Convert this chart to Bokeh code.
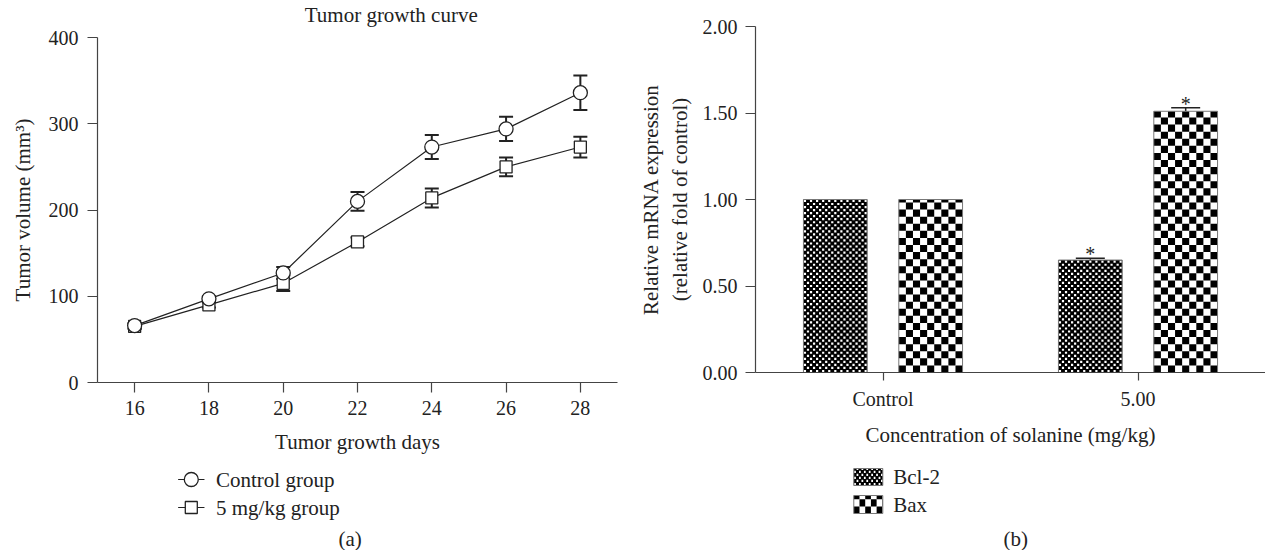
from bokeh.plotting import figure
from bokeh.layouts import row, column
from bokeh.models import (ColumnDataSource, Whisker, TeeHead, FactorRange, Range1d,
                          FixedTicker, NumeralTickFormatter)
from bokeh.transform import dodge
from bokeh.embed import file_html
from bokeh.resources import INLINE
from bokeh.core.properties import value

# ---------------- data: panel (a) ----------------
days = [16, 18, 20, 22, 24, 26, 28]
control_mean = [66, 97, 127, 210, 273, 294, 336]
control_err = [3, 3, 7, 11, 14, 14, 20]
treat_mean = [65, 90, 115, 163, 214, 250, 273]
treat_err = [3, 3, 9, 5, 11, 11, 12]
series_names = ["Control group", "5 mg/kg group"]
title_a = "Tumor growth curve"
x_ticks = [16, 18, 20, 22, 24, 26, 28]
y_ticks_a = [0, 100, 200, 300, 400]

# ---------------- data: panel (b) ----------------
groups = ["Control", "5.00"]
bcl2 = [1.00, 0.65]
bcl2_err = [0.0, 0.01]
bax = [1.00, 1.51]
bax_err = [0.0, 0.02]
sig_bcl2 = ["", "*"]
sig_bax = ["", "*"]
gene_names = ["Bcl-2", "Bax"]
y_ticks_b = [0, 0.5, 1.0, 1.5, 2.0]

FONT = "Liberation Serif"
TFS = "20px"   # tick labels
LFS = "21px"   # labels, title, legend
INK = "#222222"
AXC = "#444444"

# layout sizes (pixels)
FRAME_H = 346
A_FRAME_W = 520
B_FRAME_W = 510
MAIN_H = 456
LEG_H = 94
TITLE_H = 28


def style_axes(p):
    for ax in (p.xaxis[0], p.yaxis[0]):
        ax.axis_line_color = AXC
        ax.axis_line_width = 1.2
        ax.major_tick_line_color = AXC
        ax.major_tick_line_width = 1.2
        ax.minor_tick_line_color = None
        ax.major_tick_in = 0
        ax.major_label_text_font = FONT
        ax.major_label_text_font_size = TFS
        ax.major_label_text_color = INK
        ax.axis_label_text_font = FONT
        ax.axis_label_text_font_size = LFS
        ax.axis_label_text_font_style = "normal"
        ax.axis_label_text_color = INK
    p.xgrid.visible = False
    p.ygrid.visible = False


def blank_fig(w, h):
    f = figure(width=w, height=h, x_range=Range1d(0, w), y_range=Range1d(0, h),
               output_backend="svg", toolbar_location=None, min_border=0,
               x_axis_location=None, y_axis_location=None)
    f.outline_line_color = None
    f.xgrid.visible = False
    f.ygrid.visible = False
    return f


def checker_cells(left, right, bottom, top, cw, ch, shrink=1.0):
    """Cells (every other one) of a checkerboard filling the box, clipped at the edges.
    shrink < 1 makes each drawn cell smaller, centred in its slot."""
    L, R, B, T = [], [], [], []
    j = 0
    y0 = bottom
    pad_x = cw * (1 - shrink) / 2
    pad_y = ch * (1 - shrink) / 2
    while y0 < top - 1e-9:
        i = 0
        x0 = left
        while x0 < right - 1e-9:
            if (i + j) % 2 == 0:
                a, b = x0 + pad_x, min(x0 + cw - pad_x, right)
                c, d = y0 + pad_y, min(y0 + ch - pad_y, top)
                if b > a and d > c:
                    L.append(a); R.append(b); B.append(c); T.append(d)
            x0 += cw
            i += 1
        y0 += ch
        j += 1
    return L, R, B, T


def add_cells(store, cells):
    for k, v in zip(("left", "right", "bottom", "top"), cells):
        store[k] += v


# ================= panel (a) =================
tf1 = blank_fig(632, TITLE_H)
tf1.text(x=[97 + A_FRAME_W / 2], y=[TITLE_H - 14], text=[title_a], text_font=value(FONT),
         text_font_size=LFS, text_color=INK, text_align="center", text_baseline="middle")

A_TOP = 37 - TITLE_H
A_H = MAIN_H - TITLE_H
p1 = figure(width=632, height=A_H, x_range=Range1d(15, 29), y_range=Range1d(0, 400),
            output_backend="svg", toolbar_location=None,
            min_border_left=97, min_border_right=632 - 97 - A_FRAME_W, min_border_top=A_TOP,
            min_border_bottom=A_H - A_TOP - FRAME_H)
p1.outline_line_color = None
style_axes(p1)
p1.xaxis.ticker = FixedTicker(ticks=x_ticks)
p1.yaxis.ticker = FixedTicker(ticks=y_ticks_a)
p1.xaxis.major_tick_out = 10
p1.yaxis.major_tick_out = 10
p1.xaxis.major_label_standoff = 8
p1.yaxis.major_label_standoff = 9
p1.xaxis.axis_label = "Tumor growth days"
p1.yaxis.axis_label = "Tumor volume (mm³)"
p1.xaxis.axis_label_standoff = 12
p1.yaxis.axis_label_standoff = 11

src_c = ColumnDataSource(dict(x=days, y=control_mean,
                              lo=[m - e for m, e in zip(control_mean, control_err)],
                              hi=[m + e for m, e in zip(control_mean, control_err)]))
src_t = ColumnDataSource(dict(x=days, y=treat_mean,
                              lo=[m - e for m, e in zip(treat_mean, treat_err)],
                              hi=[m + e for m, e in zip(treat_mean, treat_err)]))

for src in (src_t, src_c):
    p1.add_layout(Whisker(base="x", lower="lo", upper="hi", source=src, dimension="height",
                          line_color=INK, line_width=2, level="underlay",
                          upper_head=TeeHead(size=14, line_color=INK, line_width=2),
                          lower_head=TeeHead(size=14, line_color=INK, line_width=2)))

p1.line("x", "y", source=src_t, line_color=INK, line_width=1.2)
p1.scatter("x", "y", source=src_t, marker="square", size=12, fill_color="white",
           line_color=INK, line_width=1.3)
p1.line("x", "y", source=src_c, line_color=INK, line_width=1.2)
p1.scatter("x", "y", source=src_c, marker="circle", size=14, fill_color="white",
           line_color=INK, line_width=1.3)

# legend strip under panel (a)  (coordinates of this strip are pixels)
lf1 = blank_fig(632, LEG_H)
leg_rows_a = [71, 43]
leg_markers = ["circle", "square"]
leg_sizes = [14, 12]
for yy, mk, sz in zip(leg_rows_a, leg_markers, leg_sizes):
    lf1.line(x=[98, 130], y=[yy, yy], line_color=INK, line_width=1.2)
    lf1.scatter(x=[114], y=[yy], marker=mk, size=sz, fill_color="white",
                line_color=INK, line_width=1.3)
lf1.text(x=[144, 144], y=leg_rows_a, text=series_names, text_font=value(FONT),
         text_font_size=LFS, text_color=INK, text_align="left", text_baseline="middle")
lf1.text(x=[307], y=[0], text=["(a)"], text_font=value(FONT), text_font_size=LFS,
         text_color=INK, text_align="center", text_baseline="bottom")

# ================= panel (b) =================
B_LEFT = 755 - 632
p2 = figure(width=633, height=MAIN_H, x_range=FactorRange(factors=groups, range_padding=0),
            y_range=Range1d(0, 2), output_backend="svg", toolbar_location=None,
            min_border_left=B_LEFT, min_border_right=0, min_border_top=26,
            min_border_bottom=MAIN_H - 26 - FRAME_H)
p2.outline_line_color = None
style_axes(p2)
p2.yaxis.ticker = FixedTicker(ticks=y_ticks_b)
p2.yaxis.formatter = NumeralTickFormatter(format="0.00")
p2.xaxis.major_tick_out = 8
p2.yaxis.major_tick_out = 10
p2.xaxis.major_label_standoff = 7
p2.yaxis.major_label_standoff = 8
p2.xaxis.axis_label = "Concentration of solanine (mg/kg)"
p2.yaxis.axis_label = "Relative mRNA expression\n(relative fold of control)"
p2.xaxis.axis_label_standoff = 10
p2.yaxis.axis_label_standoff = 8

OFF = 0.187
BW = 0.25
px_x = B_FRAME_W / len(groups)      # pixels per category unit
px_y = FRAME_H / 2.0                 # pixels per y unit
FINE_COLS = 21      # Bcl-2: fine checker, white dots on black
COARSE_COLS = 9     # Bax: coarse black/white checker
FINE_SHRINK = 0.72

white_dots = dict(left=[], right=[], bottom=[], top=[])
black_cells = dict(left=[], right=[], bottom=[], top=[])
for gi, g in enumerate(groups):
    centre = gi + 0.5                # synthetic coordinate of the category
    # Bcl-2
    l, r = centre - OFF - BW / 2, centre - OFF + BW / 2
    cw = BW / FINE_COLS
    add_cells(white_dots, checker_cells(l, r, 0, bcl2[gi], cw, cw * px_x / px_y, FINE_SHRINK))
    # Bax
    l, r = centre + OFF - BW / 2, centre + OFF + BW / 2
    cw = BW / COARSE_COLS
    add_cells(black_cells, checker_cells(l, r, 0, bax[gi], cw, cw * px_x / px_y))

src_b = ColumnDataSource(dict(grp=groups, bcl2=bcl2, bax=bax))
p2.vbar(x=dodge("grp", -OFF, range=p2.x_range), top="bcl2", width=BW, source=src_b,
        fill_color="black", line_color=None)
p2.vbar(x=dodge("grp", OFF, range=p2.x_range), top="bax", width=BW, source=src_b,
        fill_color="white", line_color=None)
p2.quad(source=ColumnDataSource(white_dots), left="left", right="right", bottom="bottom",
        top="top", fill_color="white", line_color=None)
p2.quad(source=ColumnDataSource(black_cells), left="left", right="right", bottom="bottom",
        top="top", fill_color="black", line_color=None)
p2.vbar(x=dodge("grp", -OFF, range=p2.x_range), top="bcl2", width=BW, source=src_b,
        fill_color=None, line_color="#777777", line_width=1)
p2.vbar(x=dodge("grp", OFF, range=p2.x_range), top="bax", width=BW, source=src_b,
        fill_color=None, line_color="#777777", line_width=1)

# error caps and significance marks (only where an error was measured)
for vals, errs, sig, off in ((bcl2, bcl2_err, sig_bcl2, -OFF), (bax, bax_err, sig_bax, OFF)):
    idx = [i for i, e in enumerate(errs) if e > 0]
    s = ColumnDataSource(dict(grp=[groups[i] for i in idx],
                              v=[vals[i] for i in idx],
                              hi=[vals[i] + errs[i] for i in idx],
                              sig=[sig[i] for i in idx]))
    p2.add_layout(Whisker(base=dodge("grp", off, range=p2.x_range), lower="v", upper="hi",
                          source=s, dimension="height", line_color=INK, line_width=1.5,
                          upper_head=TeeHead(size=29, line_color=INK, line_width=1.5),
                          lower_head=None))
    p2.text(x=dodge("grp", off, range=p2.x_range), y="hi", text="sig", source=s,
            text_font=value(FONT), text_font_size="20px", text_color=INK,
            text_align="center", text_baseline="middle", y_offset=-4)

# legend strip under panel (b)  (coordinates of this strip are pixels)
lf2 = blank_fig(633, LEG_H)
sw_left, sw_right = 122, 158
sw_boxes = [(65, 82), (37, 55)]
fine_px = BW * px_x / FINE_COLS
coarse_px = BW * px_x / COARSE_COLS
(b0, t0), (b1, t1) = sw_boxes
lf2.quad(left=[sw_left], right=[sw_right], bottom=[b0], top=[t0],
         fill_color="black", line_color=None)
sw_white = dict(left=[], right=[], bottom=[], top=[])
add_cells(sw_white, checker_cells(sw_left, sw_right, b0, t0, fine_px, fine_px, FINE_SHRINK))
sw_black = dict(left=[], right=[], bottom=[], top=[])
add_cells(sw_black, checker_cells(sw_left, sw_right, b1, t1, coarse_px, coarse_px))
lf2.quad(source=ColumnDataSource(sw_white), left="left", right="right", bottom="bottom",
         top="top", fill_color="white", line_color=None)
lf2.quad(source=ColumnDataSource(sw_black), left="left", right="right", bottom="bottom",
         top="top", fill_color="black", line_color=None)
lf2.quad(left=[sw_left] * 2, right=[sw_right] * 2, bottom=[b0, b1], top=[t0, t1],
         fill_color=None, line_color="#777777", line_width=1)
lf2.text(x=[171, 171], y=[(b0 + t0) / 2, (b1 + t1) / 2], text=gene_names,
         text_font=value(FONT), text_font_size=LFS, text_color=INK,
         text_align="left", text_baseline="middle")
lf2.text(x=[323], y=[0], text=["(b)"], text_font=value(FONT), text_font_size=LFS,
         text_color=INK, text_align="center", text_baseline="bottom")

layout = row(column(tf1, p1, lf1), column(p2, lf2))
open("out.html", "w").write(file_html(layout, INLINE))
